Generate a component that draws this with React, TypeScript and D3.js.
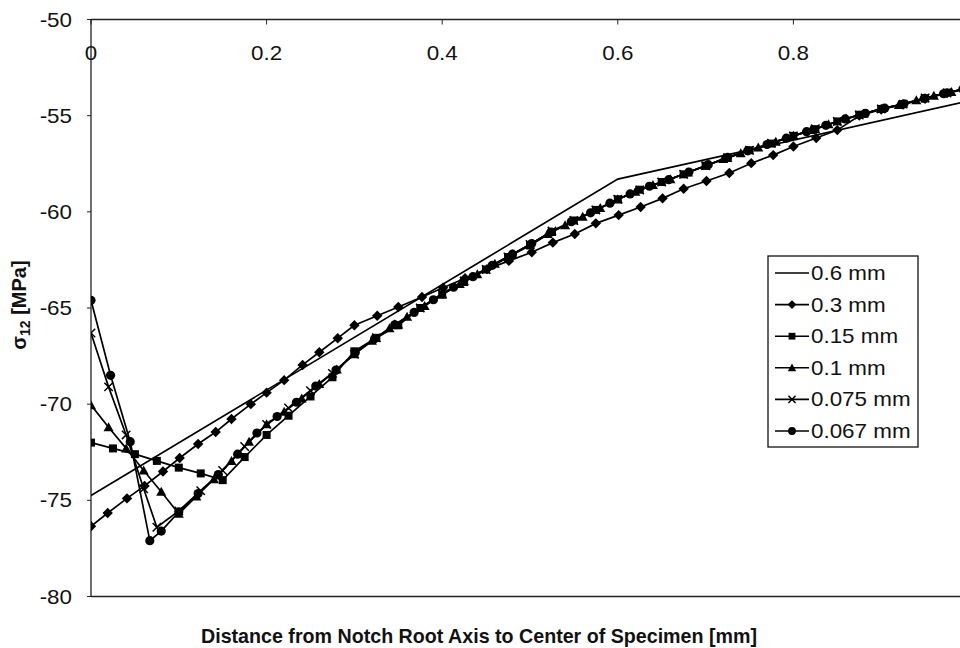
import React from 'react';
import * as d3 from 'd3';

type P = [number, number];

const xTicks = [0, 0.2, 0.4, 0.6, 0.8];
const xTickLabels = ['0', '0.2', '0.4', '0.6', '0.8'];
const yTicks = [-50, -55, -60, -65, -70, -75, -80];

const s06: P[] = [[0, -74.75], [0.6, -58.3], [1.2, -52.2]];

const s03: P[] = [
  [0, -76.35], [0.019, -75.66], [0.041, -74.9], [0.061, -74.25], [0.082, -73.5], [0.101, -72.8],
  [0.122, -72.07], [0.142, -71.45], [0.16, -70.77], [0.182, -70.0], [0.2, -69.4], [0.22, -68.75],
  [0.241, -67.96], [0.26, -67.3], [0.281, -66.57], [0.3, -65.9], [0.326, -65.4], [0.35, -64.95],
  [0.377, -64.43], [0.401, -63.95], [0.426, -63.45], [0.451, -62.98], [0.476, -62.55], [0.502, -62.1],
  [0.526, -61.6], [0.551, -61.15], [0.575, -60.6], [0.601, -60.17], [0.626, -59.75], [0.651, -59.3],
  [0.675, -58.8], [0.701, -58.4], [0.727, -57.98], [0.752, -57.47], [0.777, -57.05], [0.8, -56.6],
  [0.826, -56.16], [0.85, -55.75], [0.875, -55.0], [0.9, -54.68], [0.925, -54.42], [0.95, -54.12],
  [0.975, -53.83], [1.0, -53.58],
];

const s015: P[] = [
  [0, -72.0], [0.025, -72.3], [0.05, -72.6], [0.075, -72.95], [0.1, -73.3], [0.125, -73.6],
  [0.15, -73.95], [0.175, -72.75], [0.2, -71.6], [0.225, -70.6], [0.25, -69.6], [0.275, -68.6],
  [0.3, -67.25], [0.325, -66.55], [0.35, -65.9], [0.375, -65.0], [0.4, -64.3], [0.425, -63.65],
  [0.45, -63.0], [0.475, -62.35], [0.5, -61.75], [0.525, -61.05], [0.55, -60.45], [0.575, -59.9],
  [0.6, -59.35], [0.625, -58.85], [0.65, -58.45], [0.675, -58.05], [0.7, -57.6], [0.725, -57.2],
  [0.75, -56.8], [0.775, -56.45], [0.8, -56.05], [0.825, -55.7], [0.85, -55.3], [0.875, -54.95],
  [0.9, -54.65], [0.925, -54.4], [0.95, -54.1], [0.975, -53.8], [1.0, -53.55],
];

const s01: P[] = [
  [0, -70.05], [0.02, -71.2], [0.04, -72.3], [0.06, -73.45], [0.08, -74.55], [0.1, -75.7],
  [0.12, -74.8], [0.14, -73.9], [0.16, -72.95], [0.18, -71.95], [0.2, -71.05], [0.22, -70.4],
  [0.24, -69.7], [0.26, -68.95], [0.28, -68.2], [0.3, -67.4], [0.32, -66.7], [0.34, -66.05],
  [0.36, -65.45], [0.38, -64.9], [0.4, -64.3], [0.42, -63.75], [0.44, -63.25], [0.46, -62.7],
  [0.48, -62.2], [0.5, -61.7], [0.52, -61.15], [0.54, -60.7], [0.56, -60.25], [0.58, -59.8],
  [0.6, -59.35], [0.62, -58.95], [0.64, -58.6], [0.66, -58.3], [0.68, -57.95], [0.7, -57.6],
  [0.72, -57.25], [0.74, -56.95], [0.76, -56.65], [0.78, -56.35], [0.8, -56.05], [0.82, -55.75],
  [0.84, -55.45], [0.86, -55.15], [0.88, -54.9], [0.9, -54.65], [0.92, -54.45], [0.94, -54.2],
  [0.96, -53.97], [0.98, -53.77], [1.0, -53.55],
];

const s0075: P[] = [
  [0, -66.3], [0.02, -69.1], [0.04, -71.6], [0.06, -74.4], [0.075, -76.4],
  [0.1, -75.55], [0.125, -74.5], [0.15, -73.45], [0.175, -72.2], [0.2, -71.05], [0.225, -70.2],
  [0.25, -69.3], [0.275, -68.4], [0.3, -67.4], [0.325, -66.55], [0.35, -65.85], [0.375, -65.0],
  [0.4, -64.25], [0.425, -63.6], [0.45, -63.0], [0.475, -62.35], [0.5, -61.7], [0.525, -61.0],
  [0.55, -60.45], [0.575, -59.9], [0.6, -59.35], [0.625, -58.87], [0.65, -58.45], [0.675, -58.05],
  [0.7, -57.6], [0.725, -57.18], [0.75, -56.8], [0.775, -56.43], [0.8, -56.05], [0.825, -55.68],
  [0.85, -55.3], [0.875, -54.97], [0.9, -54.65], [0.925, -54.4], [0.95, -54.08], [0.975, -53.82],
  [1.0, -53.55],
];

const s0067: P[] = [
  [0, -64.6], [0.0223, -68.5], [0.0447, -71.95], [0.067, -77.1], [0.08, -76.6],
  [0.1, -75.6], [0.122, -74.65], [0.145, -73.66], [0.167, -72.6], [0.189, -71.5], [0.212, -70.64],
  [0.234, -69.9], [0.256, -69.06], [0.279, -68.23], [0.301, -67.32], [0.323, -66.6], [0.346, -65.87],
  [0.368, -65.23], [0.39, -64.57], [0.413, -63.92], [0.435, -63.37], [0.457, -62.78], [0.48, -62.2],
  [0.502, -61.65], [0.524, -61.05], [0.547, -60.51], [0.569, -60.05], [0.591, -59.55], [0.614, -59.07],
  [0.636, -58.67], [0.658, -58.33], [0.681, -57.93], [0.703, -57.55], [0.725, -57.17], [0.748, -56.83],
  [0.77, -56.5], [0.792, -56.17], [0.815, -55.83], [0.837, -55.5], [0.859, -55.17], [0.882, -54.88],
  [0.904, -54.61], [0.926, -54.38], [0.949, -54.1], [0.971, -53.86], [0.993, -53.62],
];

const seriesNames = ['0.6 mm', '0.3 mm', '0.15 mm', '0.1 mm', '0.075 mm', '0.067 mm'];
const seriesMarkers = ['none', 'diamond', 'square', 'triangle', 'cross', 'circle'];
const seriesData = [s06, s03, s015, s01, s0075, s0067];

const FONT = '"Liberation Sans", Arial, sans-serif';
const W = 960;
const H = 648;
const left = 91;
const top = 19.5;
const plotRight = 969;
const bottom = 596.5;

function Marker({ type, cx, cy, s = 1 }: { type: string; cx: number; cy: number; s?: number }) {
  if (type === 'diamond') {
    const r = 5.2 * s;
    return <polygon points={`${cx},${cy - r} ${cx + r},${cy} ${cx},${cy + r} ${cx - r},${cy}`} fill="#000" />;
  }
  if (type === 'square') {
    const r = 4.0 * s;
    return <rect x={cx - r} y={cy - r} width={2 * r} height={2 * r} fill="#000" />;
  }
  if (type === 'triangle') {
    const r = 5.0 * s;
    return <polygon points={`${cx},${cy - r} ${cx + r},${cy + r * 0.8} ${cx - r},${cy + r * 0.8}`} fill="#000" />;
  }
  if (type === 'cross') {
    const r = 4.2 * s;
    return (
      <path d={`M${cx - r},${cy - r}L${cx + r},${cy + r}M${cx - r},${cy + r}L${cx + r},${cy - r}`} stroke="#000" strokeWidth={1.5} fill="none" />
    );
  }
  if (type === 'circle') {
    return <circle cx={cx} cy={cy} r={4.6 * s} fill="#000" />;
  }
  return null;
}

export default function App() {
  const x = d3.scaleLinear().domain([0, 1]).range([left, plotRight]);
  const y = d3.scaleLinear().domain([-80, -50]).range([bottom, top]);
  const line = d3.line<P>().x((d) => x(d[0])).y((d) => y(d[1]));

  const legendX = 768;
  const legendY = 256;
  const legendW = 150;
  const legendH = 191;
  const rowY = (i: number) => legendY + 17 + i * 31.6;

  return (
    <div style={{ position: 'absolute', left: 0, top: 0 }}>
      <svg width={W} height={H} style={{ display: 'block', background: '#fff' }} fontFamily={FONT}>
        <defs>
          <clipPath id="plot">
            <rect x={left} y={top - 6} width={plotRight - left + 10} height={bottom - top + 12} />
          </clipPath>
        </defs>

        {/* axes */}
        <line x1={left} y1={top} x2={W} y2={top} stroke="#222" strokeWidth={1.3} />
        <line x1={left} y1={bottom} x2={W} y2={bottom} stroke="#222" strokeWidth={1.3} />
        <line x1={left} y1={top} x2={left} y2={bottom} stroke="#222" strokeWidth={1.3} />

        {yTicks.map((t) => (
          <g key={t}>
            <line x1={left - 4} x2={left} y1={y(t)} y2={y(t)} stroke="#222" strokeWidth={1} />
            <text transform={`translate(72,${y(t) + 7}) scale(1.12,1)`} textAnchor="end" fontSize={20} fill="#111">
              {t}
            </text>
          </g>
        ))}

        {xTicks.map((t, i) => (
          <g key={t}>
            <line x1={x(t)} x2={x(t)} y1={top} y2={top + 5} stroke="#222" strokeWidth={1} />
            <text transform={`translate(${x(t)},${60}) scale(1.12,1)`} textAnchor="middle" fontSize={20} fill="#111">
              {xTickLabels[i]}
            </text>
          </g>
        ))}

        {/* series */}
        <g clipPath="url(#plot)">
          {seriesData.map((data, si) => (
            <g key={si}>
              <path d={line(data) || ''} fill="none" stroke="#000" strokeWidth={1.7} />
              {data.map((d, k) => (
                <Marker key={k} type={seriesMarkers[si]} cx={x(d[0])} cy={y(d[1])} />
              ))}
            </g>
          ))}
        </g>

        {/* legend */}
        <rect x={legendX} y={legendY} width={legendW} height={legendH} fill="#fff" stroke="#111" strokeWidth={1.3} />
        {seriesNames.map((name, i) => (
          <g key={name}>
            <line x1={775} x2={809} y1={rowY(i)} y2={rowY(i)} stroke="#000" strokeWidth={1.6} />
            <Marker type={seriesMarkers[i]} cx={792} cy={rowY(i)} s={0.85} />
            <text transform={`translate(811,${rowY(i) + 7}) scale(1.12,1)`} fontSize={20} fill="#111">
              {name}
            </text>
          </g>
        ))}

        {/* axis titles */}
        <text x={479} y={643} textAnchor="middle" fontSize={21} fontWeight="bold" textLength={556} lengthAdjust="spacingAndGlyphs" fill="#111">
          Distance from Notch Root Axis to Center of Specimen [mm]
        </text>
        <text transform="translate(26,305) rotate(-90)" textAnchor="middle" fontSize={20} fontWeight="bold" fill="#111">
          σ
          <tspan fontSize={14} dy={4}>12</tspan>
          <tspan dy={-4}> [MPa]</tspan>
        </text>
      </svg>
    </div>
  );
}
